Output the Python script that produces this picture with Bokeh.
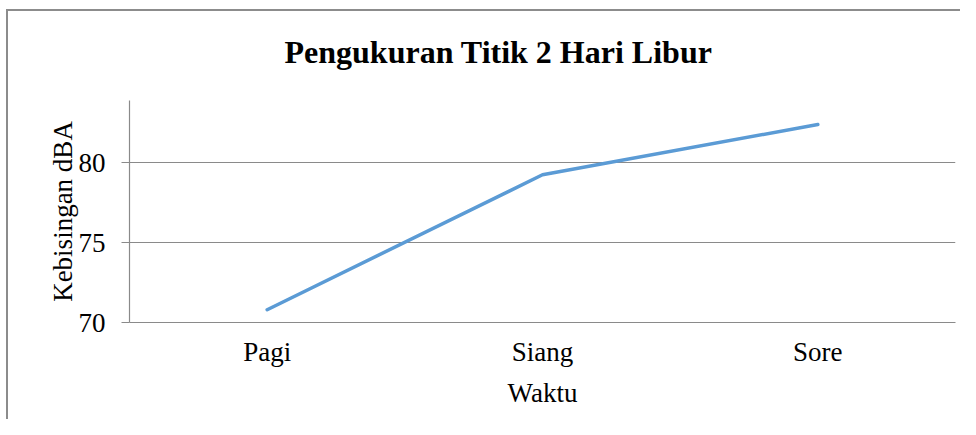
from bokeh.plotting import figure
from bokeh.models import FixedTicker, Range1d, FactorRange
from bokeh.embed import file_html
from bokeh.resources import INLINE

# Data
categories = ["Pagi", "Siang", "Sore"]
values = [70.8, 79.25, 82.4]
y_ticks = [70, 75, 80]

FONT = "Liberation Serif"

p = figure(
    width=960, height=419,
    x_range=FactorRange(*categories, range_padding=0),
    y_range=Range1d(70, 83.9),
    output_backend="svg", toolbar_location=None,
    min_border_left=129, min_border_right=5,
    min_border_top=100, min_border_bottom=97,
    title="Pengukuran Titik 2 Hari Libur",
)

# outer chart border (only top and left edges are visible in the reference)
p.border_fill_color = None
p.styles = {
    "background": "linear-gradient(#8c8c8c,#8c8c8c) 6px 9px / 2px calc(100% - 9px) no-repeat, "
                  "linear-gradient(#8c8c8c,#8c8c8c) 6px 9px / calc(100% - 6px) 2px no-repeat, white"
}

p.title.align = "left"
p.title.offset = 155
p.title.text_font = FONT
p.title.text_font_size = "32px"
p.title.text_font_style = "bold"
p.title.text_color = "#000000"
p.title.standoff = 61

p.outline_line_color = None
p.background_fill_color = "white"

p.line(x=categories, y=values, line_color="#5B9BD5", line_width=3.5, line_cap="round")

# grid
p.xgrid.grid_line_color = None
p.ygrid.grid_line_color = "#8a8a8a"
p.ygrid.grid_line_width = 1.2
p.ygrid.ticker = FixedTicker(ticks=y_ticks)

# y axis
p.yaxis.ticker = FixedTicker(ticks=y_ticks)
p.yaxis.axis_line_color = "#8a8a8a"
p.yaxis.axis_line_width = 1.2
p.yaxis.major_tick_line_color = "#8a8a8a"
p.yaxis.major_tick_out = 8
p.yaxis.major_tick_in = 0
p.yaxis.minor_tick_line_color = None
p.yaxis.major_label_text_font = FONT
p.yaxis.major_label_text_font_size = "27px"
p.yaxis.major_label_text_color = "#000000"
p.yaxis.major_label_standoff = 16
p.yaxis.axis_label = "Kebisingan dBA"
p.yaxis.axis_label_text_font = FONT
p.yaxis.axis_label_text_font_size = "27px"
p.yaxis.axis_label_text_font_style = "normal"
p.yaxis.axis_label_text_color = "#000000"
p.yaxis.axis_label_standoff = -2

# x axis
p.xaxis.axis_line_color = "#8a8a8a"
p.xaxis.axis_line_width = 1.2
p.xaxis.major_tick_line_color = None
p.xaxis.major_tick_out = 0
p.xaxis.major_tick_in = 0
p.xaxis.minor_tick_line_color = None
p.xaxis.major_label_text_font = FONT
p.xaxis.major_label_text_font_size = "27px"
p.xaxis.major_label_text_color = "#000000"
p.xaxis.major_label_standoff = 14
p.xaxis.axis_label = "Waktu"
p.xaxis.axis_label_text_font = FONT
p.xaxis.axis_label_text_font_size = "27px"
p.xaxis.axis_label_text_font_style = "normal"
p.xaxis.axis_label_text_color = "#000000"
p.xaxis.axis_label_standoff = 8

open("out.html", "w").write(file_html(p, INLINE))
